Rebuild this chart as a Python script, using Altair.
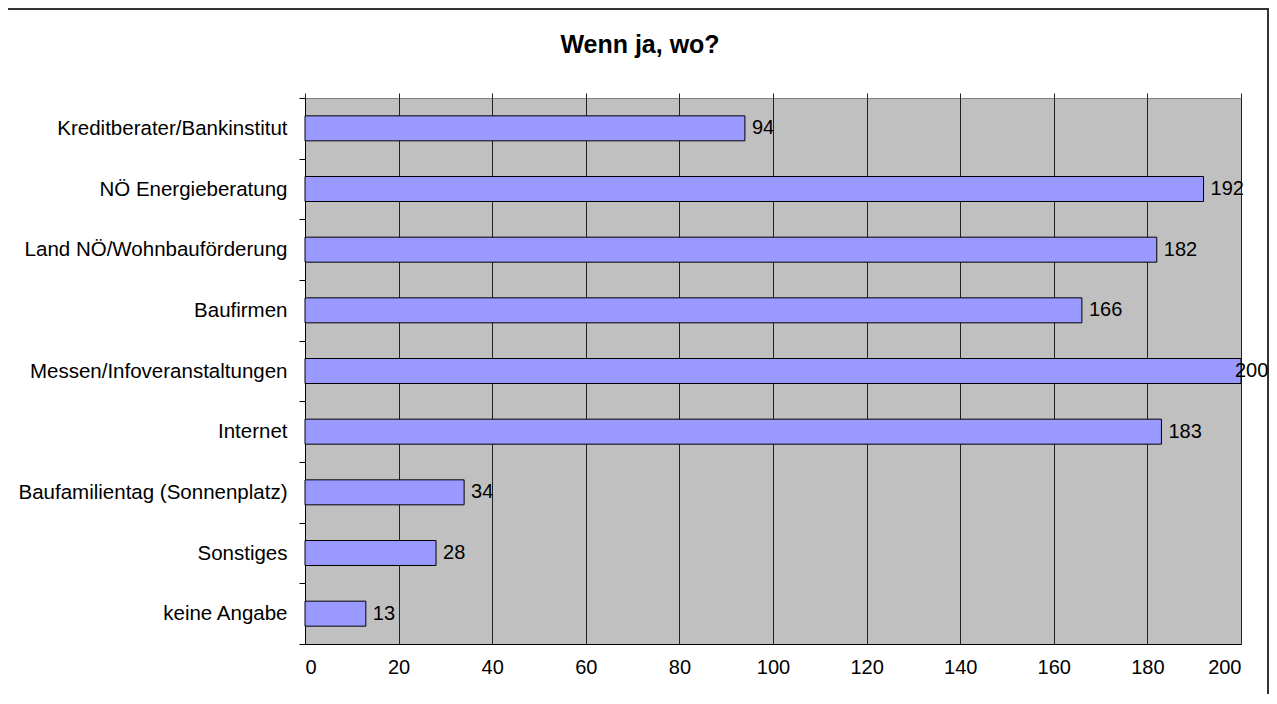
import altair as alt
import pandas as pd

categories = [
    "Kreditberater/Bankinstitut",
    "NÖ Energieberatung",
    "Land NÖ/Wohnbauförderung",
    "Baufirmen",
    "Messen/Infoveranstaltungen",
    "Internet",
    "Baufamilientag (Sonnenplatz)",
    "Sonstiges",
    "keine Angabe",
]
values = [94, 192, 182, 166, 200, 183, 34, 28, 13]
x_ticks = [0, 20, 40, 60, 80, 100, 120, 140, 160, 180, 200]

df = pd.DataFrame({"cat": categories, "v": values})
FONT = "Liberation Sans"

y_enc = alt.Y(
    "cat:N",
    sort=categories,
    scale=alt.Scale(paddingInner=0, paddingOuter=0),
    axis=alt.Axis(
        title=None, tickBand="extent", tickSize=6, tickColor="black",
        domainColor="black", labelFontSize=20.5, labelFont=FONT,
        labelColor="black", labelPadding=12, grid=False, labelLimit=0,
    ),
)

bars = alt.Chart(df).mark_bar(size=25, color="#9999FF", stroke="black", strokeWidth=1).encode(
    x=alt.X(
        "v:Q",
        scale=alt.Scale(domain=[0, 200]),
        axis=alt.Axis(
            values=x_ticks, title=None, ticks=False, grid=True, gridColor="#222",
            gridOpacity=1, labelFontSize=20, labelFont=FONT, labelColor="black",
            labelPadding=13, domainColor="black",
        ),
    ),
    y=y_enc,
)

top_axis = alt.Axis(
    orient="top", values=x_ticks, labels=False, ticks=True, tickSize=5,
    tickColor="#222", domain=False, grid=False, title=None,
)

labels = alt.Chart(df).transform_filter("datum.v < 199").mark_text(
    align="left", baseline="middle", dx=7, fontSize=20, font=FONT, color="black"
).encode(
    x=alt.X("v:Q", scale=alt.Scale(domain=[0, 200]), axis=top_axis),
    y=y_enc,
    text="v:Q",
)

labels_edge = alt.Chart(df).transform_filter("datum.v >= 199").mark_text(
    align="left", baseline="middle", dx=-6, fontSize=20, font=FONT, color="black"
).encode(
    x=alt.X("v:Q", scale=alt.Scale(domain=[0, 200]), axis=None),
    y=y_enc,
    text="v:Q",
)

border = alt.Chart(alt.Data(values=[{"a": 1}])).mark_rect(
    filled=False, stroke="#333", strokeWidth=2
).encode(
    x=alt.value(-298), x2=alt.value(963), y=alt.value(-89), y2=alt.value(700)
)

chart = alt.layer(border, bars, labels, labels_edge).resolve_axis(
    x="independent"
).properties(
    width=936,
    height=546,
    autosize=alt.AutoSizeParams(type="none"),
    padding={"left": 297, "top": 90, "right": 28, "bottom": 50},
    title=alt.Title(
        "Wenn ja, wo?", fontSize=25, fontWeight="bold", font=FONT,
        color="black", anchor="middle", dx=-133, offset=-50,
    ),
).configure(
    background="white",
    view=alt.ViewConfig(fill="#C0C0C0", stroke="#808080", strokeWidth=1),
)

chart.save("out.html", embed_options={"renderer": "svg", "actions": False})
